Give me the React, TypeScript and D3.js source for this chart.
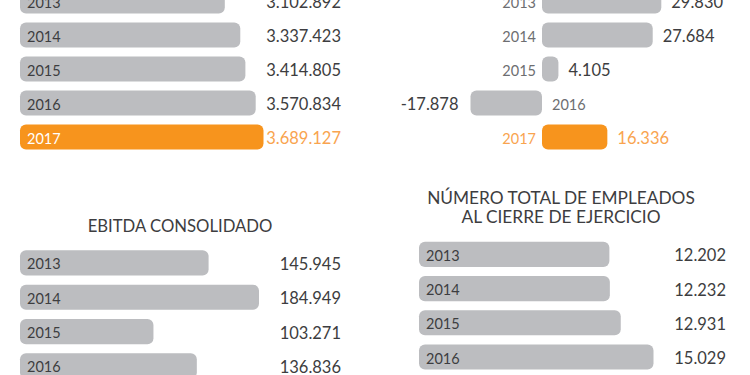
import { useRef, useEffect } from 'react';
import * as d3 from 'd3';

const years = ['2013', '2014', '2015', '2016', '2017'];
const ventas = [3102892, 3337423, 3414805, 3570834, 3689127];
const resultado = [29830, 27684, 4105, -17878, 16336];
const lowerYears = ['2013', '2014', '2015', '2016'];
const ebitda = [145945, 184949, 103271, 136836];
const empleados = [12202, 12232, 12931, 15029];
const ebitdaTitle = ['EBITDA CONSOLIDADO'];
const empleadosTitle = ['NÚMERO TOTAL DE EMPLEADOS', 'AL CIERRE DE EJERCICIO'];
const highlightYear = '2017';

const GREY = '#bcbdc0';
const ORANGE = '#f7941d';
const ORANGE_TEXT = '#f9a44f';
const DARK = '#3d3d40';
const MUTED = '#6d6e71';
const FONT = 'Lato, "Open Sans", sans-serif';

const es = d3.formatLocale({ decimal: ',', thousands: '.', grouping: [3], currency: ['', ''], minus: '-' });
const fmt = es.format(',d');

type Sel = d3.Selection<SVGGElement, unknown, null, undefined>;

interface BarPanel {
    cats: string[];
    vals: number[];
    x0: number;
    barMax: number;
    top: number;
    step: number;
    valueRight: number;
    title?: string[];
    titleX?: number;
    titleY?: number;
    titleSize?: number;
}

// Simple left-anchored bar list with year inside the bar and value right-aligned
function drawPanel(root: Sel, p: BarPanel) {
    const g = root.append('g');
    const x = d3.scaleLinear().domain([0, d3.max(p.vals) || 1]).range([0, p.barMax]);
    const y = d3.scaleBand()
        .domain(p.cats)
        .range([p.top, p.top + p.step * p.cats.length])
        .paddingInner(9 / 34)
        .paddingOuter(4.5 / 34);
    const rows = p.cats.map((c, i) => ({ c, v: p.vals[i] }));

    if (p.title) {
        g.append('text')
            .attr('text-anchor', 'middle')
            .attr('fill', DARK)
            .style('font-family', FONT)
            .style('font-size', `${p.titleSize || 16}px`)
            .selectAll('tspan')
            .data(p.title)
            .enter()
            .append('tspan')
            .attr('x', p.titleX || 0)
            .attr('y', (_d, i) => (p.titleY || 0) + i * 19)
            .text(d => d);
    }

    g.selectAll('.bar')
        .data(rows)
        .enter()
        .append('rect')
        .attr('x', p.x0)
        .attr('y', d => y(d.c) || 0)
        .attr('width', d => x(d.v))
        .attr('height', y.bandwidth())
        .attr('rx', 6)
        .attr('fill', d => (d.c === highlightYear ? ORANGE : GREY));

    g.selectAll('.yr')
        .data(rows)
        .enter()
        .append('text')
        .attr('x', p.x0 + 7)
        .attr('y', d => (y(d.c) || 0) + y.bandwidth() / 2 + 6.5)
        .attr('fill', d => (d.c === highlightYear ? '#ffffff' : DARK))
        .style('font-family', FONT)
        .style('font-size', '14.5px')
        .text(d => d.c);

    g.selectAll('.val')
        .data(rows)
        .enter()
        .append('text')
        .attr('x', p.valueRight)
        .attr('y', d => (y(d.c) || 0) + y.bandwidth() / 2 + 7)
        .attr('text-anchor', 'end')
        .attr('fill', d => (d.c === highlightYear ? ORANGE_TEXT : DARK))
        .style('font-family', FONT)
        .style('font-size', '16.5px')
        .text(d => fmt(d.v));
}

// Diverging bars around a zero line (net result)
function drawDiverging(root: Sel) {
    const g = root.append('g');
    const zero = 542;
    const x = d3.scaleLinear().domain([0, 29830]).range([zero, zero + 119.3]);
    const y = d3.scaleBand()
        .domain(years)
        .range([-16, -16 + 34 * years.length])
        .paddingInner(9 / 34)
        .paddingOuter(4.5 / 34);
    const rows = years.map((c, i) => ({ c, v: resultado[i] }));

    g.selectAll('.bar')
        .data(rows)
        .enter()
        .append('rect')
        .attr('x', d => Math.min(x(0), x(d.v)))
        .attr('y', d => y(d.c) || 0)
        .attr('width', d => Math.abs(x(d.v) - x(0)))
        .attr('height', y.bandwidth())
        .attr('rx', 6)
        .attr('fill', d => (d.c === highlightYear ? ORANGE : GREY));

    g.selectAll('.yr')
        .data(rows)
        .enter()
        .append('text')
        .attr('x', d => (d.v >= 0 ? x(0) - 6 : x(0) + 10))
        .attr('y', d => (y(d.c) || 0) + y.bandwidth() / 2 + 6.5)
        .attr('text-anchor', d => (d.v >= 0 ? 'end' : 'start'))
        .attr('fill', d => (d.c === highlightYear ? ORANGE_TEXT : MUTED))
        .style('font-family', FONT)
        .style('font-size', '14.5px')
        .text(d => d.c);

    g.selectAll('.val')
        .data(rows)
        .enter()
        .append('text')
        .attr('x', d => (d.v >= 0 ? x(d.v) + 10 : x(d.v) - 12))
        .attr('y', d => (y(d.c) || 0) + y.bandwidth() / 2 + 7)
        .attr('text-anchor', d => (d.v >= 0 ? 'start' : 'end'))
        .attr('fill', d => (d.c === highlightYear ? ORANGE_TEXT : DARK))
        .style('font-family', FONT)
        .style('font-size', '16.5px')
        .text(d => fmt(d.v));
}

export default function App() {
    const svgRef = useRef<SVGSVGElement>(null);

    useEffect(() => {
        if (!svgRef.current) return;
        const svg = d3.select(svgRef.current);
        svg.selectAll('*').remove();
        const root = svg.append('g') as unknown as Sel;

        root.append('rect').attr('width', 750).attr('height', 375).attr('fill', '#ffffff');

        drawPanel(root, { cats: years, vals: ventas, x0: 20, barMax: 243.5, top: -16, step: 34, valueRight: 341 });
        drawDiverging(root);
        drawPanel(root, {
            cats: lowerYears, vals: ebitda, x0: 20, barMax: 239, top: 245.8, step: 34.3, valueRight: 341,
            title: ebitdaTitle, titleX: 180, titleY: 232, titleSize: 16.7,
        });
        drawPanel(root, {
            cats: lowerYears, vals: empleados, x0: 419, barMax: 234.5, top: 237.3, step: 34.2, valueRight: 726,
            title: empleadosTitle, titleX: 561, titleY: 204, titleSize: 17.3,
        });
    }, []);

    return (
        <svg
            ref={svgRef}
            width={750}
            height={375}
            style={{ position: 'fixed', left: 0, top: 0, display: 'block' }}
        />
    );
}
